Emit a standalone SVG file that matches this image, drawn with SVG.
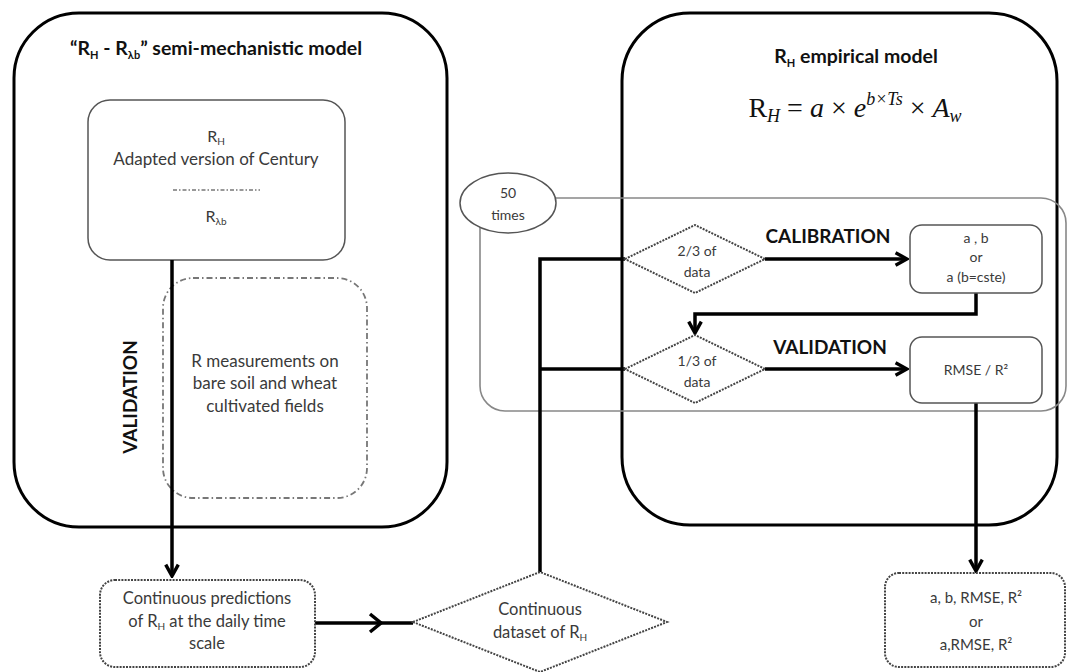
<svg xmlns="http://www.w3.org/2000/svg" width="1069" height="672" viewBox="0 0 1069 672">
<style>
.big{fill:none;stroke:#000;stroke-width:3}
.inner{fill:#fff;stroke:#555;stroke-width:1.5}
.dashdot{fill:none;stroke:#777;stroke-width:1.8;stroke-dasharray:6 3 1.5 3}
.dot{fill:#fff;stroke:#444;stroke-width:2;stroke-dasharray:2 1.2}
.loop{fill:none;stroke:#888;stroke-width:1.6}
.conn{fill:none;stroke:#000;stroke-width:3.5}
.t{font-family:Lato,"Liberation Sans",sans-serif;fill:#3a3a3a;text-anchor:middle}
.h{font-family:Lato,"Liberation Sans",sans-serif;fill:#111;font-weight:bold;text-anchor:middle}
.m{font-family:"Liberation Serif",serif;fill:#111}
</style>
<defs>
<marker id="arr" viewBox="0 0 14 14" refX="12" refY="7" markerWidth="16" markerHeight="16" markerUnits="userSpaceOnUse" orient="auto">
<path d="M2,1.5 L12,7 L2,12.5" fill="none" stroke="#000" stroke-width="3"/>
</marker>
</defs>
<rect width="1069" height="672" fill="#fff"/>

<g id="semi-model">
<rect class="big" x="14" y="13" width="433" height="514" rx="65"/>
<text class="h" x="216" y="55" font-size="19.5"><tspan>“R</tspan><tspan font-size="11" dy="4">H</tspan><tspan dy="-4"> - R</tspan><tspan font-size="11" dy="4">λb</tspan><tspan dy="-4">” semi-mechanistic model</tspan></text>
<text class="h" font-size="19" transform="translate(137,397) rotate(-90)">VALIDATION</text>
</g>

<g id="century">
<rect class="inner" x="88" y="100" width="257" height="160" rx="22"/>
<text class="t" x="216" y="142" font-size="16">R<tspan font-size="10" dy="3">H</tspan></text>
<text class="t" x="216" y="165" font-size="17">Adapted version of Century</text>
<line x1="173" y1="190" x2="260" y2="190" stroke="#777" stroke-width="1.5" stroke-dasharray="4 2 1.5 2"/>
<text class="t" x="216" y="222" font-size="16">R<tspan font-size="10" dy="3">λb</tspan></text>
</g>

<g id="measurements">
<rect class="dashdot" x="163" y="278" width="204" height="220" rx="30"/>
<text class="t" x="265" y="367" font-size="17">R measurements on</text>
<text class="t" x="265" y="389" font-size="17">bare soil and wheat</text>
<text class="t" x="265" y="412" font-size="17">cultivated fields</text>
</g>

<g id="empirical-model">
<rect class="big" x="622" y="13" width="435" height="512" rx="68"/>
<text class="h" x="856" y="63" font-size="19.5">R<tspan font-size="11" dy="4">H</tspan><tspan dy="-4"> empirical model</tspan></text>
<text class="m" x="855" y="117" font-size="28" text-anchor="middle">R<tspan font-style="italic" font-size="18" dy="5">H</tspan><tspan dy="-5"> =  </tspan><tspan font-style="italic">a</tspan><tspan> ×  </tspan><tspan font-style="italic">e</tspan><tspan font-style="italic" font-size="18" dy="-12">b×Ts</tspan><tspan dy="12"> ×  </tspan><tspan font-style="italic">A</tspan><tspan font-style="italic" font-size="18" dy="5">w</tspan></text>
</g>

<g id="loop">
<rect class="loop" x="480" y="198" width="586" height="213" rx="25"/>
</g>

<g id="fifty-times">
<ellipse cx="508" cy="203" rx="48" ry="30" fill="#fff" stroke="#555" stroke-width="1.5"/>
<text class="t" x="508" y="198" font-size="14">50</text>
<text class="t" x="508" y="220" font-size="14">times</text>
</g>

<g id="connectors">
<path class="conn" d="M540,572 V259 H625"/>
<path class="conn" d="M540,369 H625"/>
<path class="conn" d="M765,259 H907" marker-end="url(#arr)"/>
<path class="conn" d="M976,293 V314 H695 V333" marker-end="url(#arr)"/>
<path class="conn" d="M765,369 H907" marker-end="url(#arr)"/>
<path class="conn" d="M976,403 V571" marker-end="url(#arr)"/>
<path class="conn" d="M172,260 V576" marker-end="url(#arr)"/>
<path class="conn" d="M315,623 H413"/>
<path d="M370,614 L381,623 L370,632" fill="none" stroke="#000" stroke-width="3.5"/>
</g>

<g id="two-thirds">
<polygon class="dot" points="625,259 695,225 765,259 695,293"/>
<text class="t" x="697" y="256" font-size="14">2/3 of</text>
<text class="t" x="697" y="277" font-size="14">data</text>
</g>

<g id="calibration-label">
<text class="h" x="828" y="243" font-size="19">CALIBRATION</text>
</g>

<g id="ab-box">
<rect class="inner" x="910" y="225" width="132" height="68" rx="12"/>
<text class="t" x="976" y="243" font-size="14">a , b</text>
<text class="t" x="976" y="262" font-size="14">or</text>
<text class="t" x="976" y="282" font-size="14">a (b=cste)</text>
</g>

<g id="one-third">
<polygon class="dot" points="625,369 695,335 765,369 695,403"/>
<text class="t" x="697" y="366" font-size="14">1/3 of</text>
<text class="t" x="697" y="387" font-size="14">data</text>
</g>

<g id="validation-label">
<text class="h" x="830" y="354" font-size="19">VALIDATION</text>
</g>

<g id="rmse-box">
<rect class="inner" x="910" y="337" width="132" height="66" rx="12"/>
<text class="t" x="976" y="375" font-size="14">RMSE / R²</text>
</g>

<g id="predictions">
<rect class="dot" x="100" y="580" width="215" height="87" rx="15"/>
<text class="t" x="207" y="604" font-size="16.5">Continuous predictions</text>
<text class="t" x="207" y="627" font-size="16.5">of R<tspan font-size="10" dy="3">H</tspan><tspan dy="-3"> at the daily time</tspan></text>
<text class="t" x="207" y="649" font-size="16.5">scale</text>
</g>

<g id="dataset">
<polygon class="dot" points="413,622 540,572 667,622 540,672"/>
<text class="t" x="540" y="615" font-size="16.5">Continuous</text>
<text class="t" x="540" y="638" font-size="16.5">dataset of R<tspan font-size="10" dy="3">H</tspan></text>
</g>

<g id="final">
<rect class="dot" x="885" y="573" width="180" height="94" rx="14"/>
<text class="t" x="976" y="603" font-size="15">a, b, RMSE, R²</text>
<text class="t" x="976" y="627" font-size="15">or</text>
<text class="t" x="976" y="650" font-size="15">a,RMSE, R²</text>
</g>
</svg>
